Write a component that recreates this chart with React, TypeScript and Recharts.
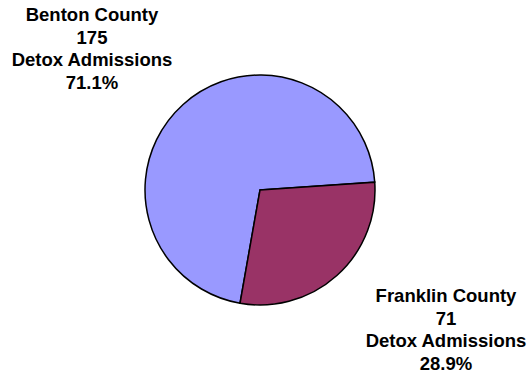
import { Cell, Pie, PieChart } from "recharts";

const counties = ["Benton County", "Franklin County"];
const admissions = [175, 71];
const percents = ["71.1%", "28.9%"];
const colors = ["#9999FF", "#993366"];

const data = counties.map((name, i) => ({
  name,
  value: admissions[i],
  pct: percents[i],
}));

// where each label block sits, relative to the pie centre
const labelOffset: Record<string, { dx: number; dy: number }> = {
  "Benton County": { dx: -168, dy: -169 },
  "Franklin County": { dx: 186, dy: 112 },
};

function renderLabel(props: any) {
  const { cx, cy, name, value, payload } = props;
  const off = labelOffset[name];
  const x = cx + off.dx;
  const y = cy + off.dy;
  const lines = [name, String(value), "Detox Admissions", payload.pct];
  return (
    <text
      x={x}
      y={y}
      textAnchor="middle"
      fill="#000"
      fontFamily="'Liberation Sans', Arial, sans-serif"
      fontWeight="bold"
      fontSize={18.5}
    >
      {lines.map((line, i) => (
        <tspan key={i} x={x} dy={i === 0 ? 0 : 22.7}>
          {line}
        </tspan>
      ))}
    </text>
  );
}

export default function App() {
  return (
    <div style={{ position: "absolute", left: 0, top: 0, background: "#fff" }}>
      <PieChart width={527} height={382}>
        <Pie
          data={data}
          dataKey="value"
          nameKey="name"
          cx={255}
          cy={185}
          outerRadius={115}
          startAngle={-100}
          endAngle={-460}
          stroke="#000"
          strokeWidth={1.5}
          label={renderLabel}
          labelLine={false}
          isAnimationActive={false}
        >
          {data.map((d, i) => (
            <Cell key={d.name} fill={colors[i]} />
          ))}
        </Pie>
      </PieChart>
    </div>
  );
}
